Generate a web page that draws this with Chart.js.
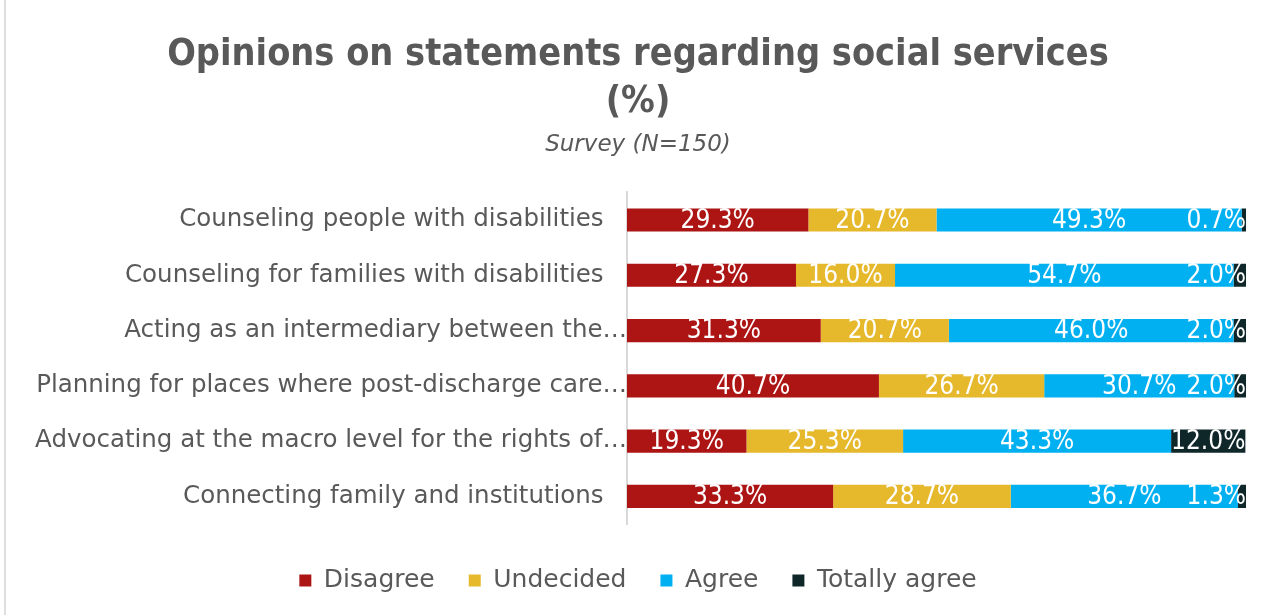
<!DOCTYPE html>
<html lang="en">
<head>
  <meta charset="UTF-8" />
  <title>Opinions on statements regarding social services</title>
  <script src="https://cdn.jsdelivr.net/npm/chart.js"></script>
  <style>
    body {
      margin: 0;
      background: #ffffff;
    }
    .wrap {
      position: relative;
      width: 1274px;
      height: 615px;
    }
    .frame-edge {
      position: absolute;
      left: 4px;
      top: 0;
      width: 2px;
      height: 615px;
      background: #dedede;
    }
  </style>
</head>
<body>

  <div class="wrap">
    <canvas id="opinionChart" width="1274" height="615"></canvas>
    <div class="frame-edge"></div>
  </div>

  <script>
    // values
    const categories = [
      'Counseling people with disabilities',
      'Counseling for families with disabilities',
      'Acting as an intermediary between the…',
      'Planning for places where post-discharge care…',
      'Advocating at the macro level for the rights of…',
      'Connecting family and institutions'
    ];
    const seriesNames = ['Disagree', 'Undecided', 'Agree', 'Totally agree'];
    const disagree = [29.3, 27.3, 31.3, 40.7, 19.3, 33.3];
    const undecided = [20.7, 16.0, 20.7, 26.7, 25.3, 28.7];
    const agree = [49.3, 54.7, 46.0, 30.7, 43.3, 36.7];
    const totallyAgree = [0.7, 2.0, 2.0, 2.0, 12.0, 1.3];
    const seriesColors = ['#ad1515', '#e6b82c', '#00b0f0', '#10272a'];

    const textGrey = '#595959';
    const baseFont = "'DejaVu Sans', sans-serif";
    const titleFont = "'DejaVu Sans Condensed', 'DejaVu Sans', sans-serif";
    const labelFont = "'Liberation Sans Narrow', 'DejaVu Sans Condensed', sans-serif";

    // white value labels in the middle of every segment, kept inside the plot on the right
    const segmentLabels = {
      id: 'segmentLabels',
      afterDatasetsDraw(chart) {
        const ctx = chart.ctx;
        const area = chart.chartArea;
        ctx.save();
        ctx.font = '26px ' + labelFont;
        ctx.fillStyle = '#ffffff';
        ctx.textBaseline = 'middle';
        ctx.textAlign = 'left';
        chart.data.datasets.forEach((ds, i) => {
          const meta = chart.getDatasetMeta(i);
          meta.data.forEach((bar, j) => {
            const txt = ds.data[j].toFixed(1) + '%';
            const w = ctx.measureText(txt).width;
            let cx = (bar.base + bar.x) / 2;
            if (cx + w / 2 > area.right) cx = area.right - w / 2;
            ctx.fillText(txt, cx - w / 2, bar.y + 1);
          });
        });
        ctx.restore();
      }
    };

    const datasets = [disagree, undecided, agree, totallyAgree].map((vals, i) => ({
      label: seriesNames[i],
      data: vals,
      backgroundColor: seriesColors[i],
      borderWidth: 0,
      barPercentage: 0.42,
      categoryPercentage: 1
    }));

    const ctx = document.getElementById('opinionChart').getContext('2d');
    const opinionChart = new Chart(ctx, {
      type: 'bar',
      data: { labels: categories, datasets: datasets },
      plugins: [segmentLabels],
      options: {
        indexAxis: 'y',
        responsive: false,
        animation: false,
        layout: { padding: { left: 30, right: 28, top: 0, bottom: 12 } },
        plugins: {
          title: {
            display: true,
            text: ['Opinions on statements regarding social services', '(%)'],
            color: textGrey,
            font: { family: titleFont, size: 37.5, weight: 'bold', lineHeight: 1.25 },
            padding: { top: 32, bottom: 5 }
          },
          subtitle: {
            display: true,
            text: 'Survey (N=150)',
            color: textGrey,
            font: { family: baseFont, size: 23, style: 'italic', lineHeight: 1.2 },
            padding: { top: 0, bottom: 34 }
          },
          legend: {
            position: 'bottom',
            labels: {
              color: textGrey,
              font: { family: baseFont, size: 25 },
              boxWidth: 12,
              boxHeight: 12,
              padding: 34
            }
          },
          tooltip: { enabled: false }
        },
        scales: {
          x: {
            stacked: true,
            min: 0,
            max: 100,
            ticks: { display: false },
            grid: { display: false },
            border: { display: false },
            afterFit(scale) { scale.height = 10; }
          },
          y: {
            stacked: true,
            ticks: {
              color: textGrey,
              font: { family: baseFont, size: 24.5 },
              padding: 0,
              autoSkip: false,
              // full labels sit a little off the axis, shortened ones run up to it
              callback(value) {
                const name = this.getLabelForValue(value);
                return name.endsWith('…') ? name : name + '   ';
              }
            },
            grid: { display: false, drawTicks: false },
            border: { display: true, color: '#d9d9d9', width: 2 },
            afterFit(scale) { scale.width = 597; }
          }
        }
      }
    });
  </script>
</body>
</html>
